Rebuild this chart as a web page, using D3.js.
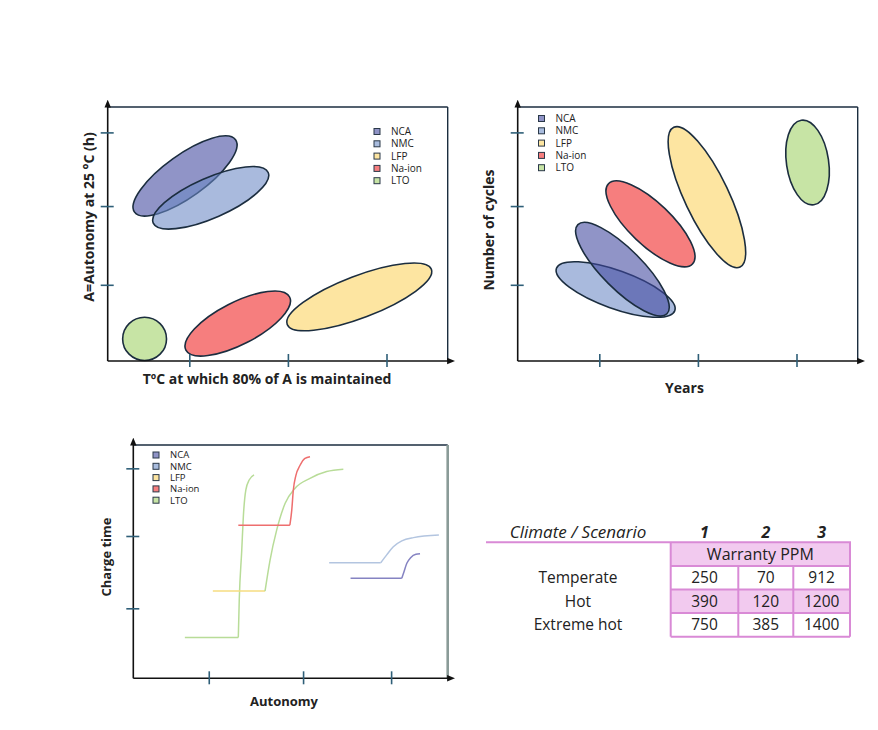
<!DOCTYPE html>
<html>
<head>
<meta charset="utf-8">
<script src="https://cdn.jsdelivr.net/npm/d3@7"></script>
<style>
  body { margin: 0; background: #fff; }
  svg { display: block; }
  text { font-family: 'Open Sans', 'Noto Sans', sans-serif; fill: #222; }
</style>
</head>
<body>
<svg id="chart" width="878" height="730"></svg>
<script>
// ---- Data -------------------------------------------------------

const SERIES = ['NCA', 'NMC', 'LFP', 'Na-ion', 'LTO'];

const X_TICKS = [24, 53, 82];
const Y_TICKS = [30, 61, 90];
const CHARGE_X_TICKS = [24, 54, 82];

// zones: ends of the long axis (x1,y1)-(x2,y2) and half width w, in axis units
const TEMP_ZONES = [
  { name: 'LTO',    x1: 4.4,  y1: 8.7,  x2: 17.3, y2: 8.7,  w: 8.5 },
  { name: 'Na-ion', x1: 23.0, y1: 4.3,  x2: 53.5, y2: 25.2, w: 8.3 },
  { name: 'LFP',    x1: 52.8, y1: 14.4, x2: 95.2, y2: 36.1, w: 8.3 },
  { name: 'NCA',    x1: 7.9,  y1: 58.6, x2: 37.6, y2: 87.1, w: 8.3 },
  { name: 'NMC',    x1: 13.4, y1: 54.3, x2: 47.2, y2: 74.2, w: 7.9 },
];

const LIFE_ZONES = [
  { name: 'LTO',    x1: 83.4, y1: 94.8, x2: 87.1, y2: 61.5, w: 8.3 },
  { name: 'LFP',    x1: 45.9, y1: 92.0, x2: 65.4, y2: 37.0, w: 8.7 },
  { name: 'Na-ion', x1: 26.7, y1: 69.8, x2: 51.4, y2: 38.2, w: 8.3 },
  { name: 'NMC',    x1: 11.4, y1: 36.5, x2: 46.2, y2: 19.8, w: 7.5 },
  { name: 'NCA',    x1: 17.7, y1: 53.7, x2: 43.9, y2: 18.6, w: 7.9 },
];

// charge curves: flat part [xStart, xEnd, y] then the rise
const CHARGE_CURVES = [
  { name: 'LTO',    flat: [16.4, 33.4, 17.5],
    rise: [[33.4, 17.5], [33.7, 33.6], [34.5, 55.0], [35.0, 69.3], [35.8, 80.8], [36.9, 85.1], [38.4, 87.2]] },
  { name: 'LFP',    flat: [25.3, 41.9, 37.4],
    rise: [[41.9, 37.4], [43.5, 50.7], [45.6, 63.5], [48.3, 75.0], [51.4, 81.4], [56.2, 85.7], [61.5, 88.6], [66.8, 89.6]] },
  { name: 'Na-ion', flat: [33.4, 49.8, 65.6],
    rise: [[49.8, 65.6], [50.4, 72.1], [50.9, 80.7], [51.7, 86.9], [53.0, 91.2], [54.6, 94.3], [56.2, 95.0]] },
  { name: 'NMC',    flat: [62.3, 78.7, 49.5],
    rise: [[78.7, 49.5], [80.6, 52.9], [82.7, 56.4], [85.4, 58.9], [89.1, 60.3], [97.2, 61.4]] },
  { name: 'NCA',    flat: [69.1, 85.4, 42.9],
    rise: [[85.4, 42.9], [86.1, 45.7], [87.0, 49.3], [88.2, 51.7], [89.9, 53.2], [91.2, 53.4]] },
];

const CLIMATES = ['Temperate', 'Hot', 'Extreme hot'];
const SCENARIOS = ['1', '2', '3'];
const WARRANTY_PPM = [
  [250, 70, 912],
  [390, 120, 1200],
  [750, 385, 1400],
];

// ---- Styles -----------------------------------------------------

const ZONE_FILL = {
  'NCA': 'rgba(64,70,158,0.58)', 'NMC': 'rgba(106,136,196,0.58)',
  'LFP': '#fde5a1', 'Na-ion': '#f67e7e', 'LTO': '#c7e4a5',
};
const SWATCH = {
  'NCA': '#8f93c6', 'NMC': '#a9bcde', 'LFP': '#fde5a1', 'Na-ion': '#f67e7e', 'LTO': '#c7e4a5',
};
const LINE_COLOR = {
  'NCA': '#8583c2', 'NMC': '#b3c5e0', 'LFP': '#f6dc80', 'Na-ion': '#ee6e6e', 'LTO': '#b8dc98',
};
const RISE_COLOR = { 'LFP': '#b8dc98' };   // the LFP rise is drawn green in the source

const STROKE = '#1b2d3f';
const TICK = '#2f5f78';
const PINK = '#d98ad6';
const PINK_FILL = '#f2caef';
const LEGEND_FONT = "'Liberation Sans', Arial, sans-serif";

const svg = d3.select('#chart');

const defs = svg.append('defs');
defs.append('marker')
  .attr('id', 'arrow')
  .attr('viewBox', '0 0 10 10')
  .attr('refX', 2).attr('refY', 5)
  .attr('markerWidth', 5).attr('markerHeight', 5)
  .attr('orient', 'auto')
  .append('path').attr('d', 'M0,1 L10,5 L0,9 Z').attr('fill', '#111');

// ---- Helpers ----------------------------------------------------

function frame(x, y, opts) {
  const [x0, x1] = x.range();
  const [y0, y1] = y.range();   // y0 bottom, y1 top
  const g = svg.append('g');

  g.append('line').attr('x1', x0).attr('x2', x1).attr('y1', y1).attr('y2', y1)
    .attr('stroke', opts.topColor || STROKE).attr('stroke-width', 1.4);
  g.append('line').attr('x1', x1).attr('x2', x1).attr('y1', y1).attr('y2', y0)
    .attr('stroke', opts.rightColor || STROKE).attr('stroke-width', opts.rightWidth || 1.4);

  g.append('line').attr('x1', x0).attr('x2', x0).attr('y1', y0).attr('y2', y1 - 1)
    .attr('stroke', '#111').attr('stroke-width', 1.6).attr('marker-end', 'url(#arrow)');
  g.append('line').attr('x1', x0).attr('x2', x1 + 1).attr('y1', y0).attr('y2', y0)
    .attr('stroke', '#111').attr('stroke-width', 1.6).attr('marker-end', 'url(#arrow)');

  const xa = g.append('g').attr('transform', `translate(0,${y0})`)
    .call(d3.axisBottom(x).tickValues(opts.xTicks).tickSize(0).tickFormat(''));
  xa.select('.domain').remove();
  xa.selectAll('.tick line').attr('y1', -7).attr('y2', 6).attr('stroke', TICK).attr('stroke-width', 1.6);

  const ya = g.append('g').attr('transform', `translate(${x0},0)`)
    .call(d3.axisLeft(y).tickValues(opts.yTicks).tickSize(0).tickFormat(''));
  ya.select('.domain').remove();
  ya.selectAll('.tick line').attr('x1', -7).attr('x2', 6).attr('stroke', TICK).attr('stroke-width', 1.6);

  g.append('text')
    .attr('x', opts.xTitle[1]).attr('y', opts.xTitle[2])
    .attr('text-anchor', 'middle').attr('dy', '0.35em')
    .attr('font-size', opts.titleSize).attr('font-weight', 700)
    .text(opts.xTitle[0]);
  g.append('text')
    .attr('transform', `translate(${opts.yTitle[1]},${opts.yTitle[2]}) rotate(-90)`)
    .attr('text-anchor', 'middle').attr('dy', '0.35em')
    .attr('font-size', opts.titleSize).attr('font-weight', 700)
    .text(opts.yTitle[0]);
}

function legend(x0, y0, step, size) {
  const g = svg.append('g').attr('transform', `translate(${x0},${y0})`);
  const row = g.selectAll('g').data(SERIES).join('g')
    .attr('transform', (d, i) => `translate(0,${i * step})`);
  row.append('rect')
    .attr('x', -3).attr('y', -3).attr('width', 6).attr('height', 6)
    .attr('fill', d => SWATCH[d]).attr('stroke', '#2a3848').attr('stroke-width', 1);
  row.append('text')
    .attr('x', 14).attr('dy', '0.36em')
    .attr('font-family', LEGEND_FONT)
    .attr('font-size', size).attr('fill', '#333')
    .text(d => d);
}

function zones(x, y, data) {
  const g = svg.append('g');
  const unit = Math.abs(y(0) - y(1));
  data.forEach(d => {
    const ax = x(d.x1), ay = y(d.y1), bx = x(d.x2), by = y(d.y2);
    const rx = Math.hypot(bx - ax, by - ay) / 2;
    const ang = Math.atan2(by - ay, bx - ax) * 180 / Math.PI;
    g.append('ellipse')
      .attr('transform', `translate(${(ax + bx) / 2},${(ay + by) / 2}) rotate(${ang})`)
      .attr('rx', rx).attr('ry', d.w * unit)
      .attr('fill', ZONE_FILL[d.name])
      .attr('stroke', STROKE).attr('stroke-width', 1.6);
  });
}

// ---- Chart 1: autonomy vs temperature --------------------------

const x1 = d3.scaleLinear().domain([0, 100]).range([107.7, 447.7]);
const y1 = d3.scaleLinear().domain([0, 100]).range([361, 107]);
zones(x1, y1, TEMP_ZONES);
frame(x1, y1, {
  xTicks: X_TICKS, yTicks: Y_TICKS, titleSize: 14,
  xTitle: ['TºC at which 80% of A is maintained', 267, 379],
  yTitle: ['A=Autonomy at 25 °C (h)', 89, 217],
});
legend(377, 131.5, 12.3, 10);

// ---- Chart 2: cycles vs years ----------------------------------

const x2 = d3.scaleLinear().domain([0, 100]).range([517.7, 857.7]);
const y2 = d3.scaleLinear().domain([0, 100]).range([361, 107]);
zones(x2, y2, LIFE_ZONES);
frame(x2, y2, {
  xTicks: X_TICKS, yTicks: Y_TICKS, titleSize: 14,
  xTitle: ['Years', 684.5, 388.5],
  yTitle: ['Number of cycles', 489, 230],
});
legend(541.5, 118.5, 12.3, 10);

// ---- Chart 3: charge time vs autonomy --------------------------

const x3 = d3.scaleLinear().domain([0, 100]).range([133.3, 447.7]);
const y3 = d3.scaleLinear().domain([0, 100]).range([678.3, 445]);

const lineG = svg.append('g').attr('fill', 'none').attr('stroke-width', 1.5);
const riseLine = d3.line().x(d => x3(d[0])).y(d => y3(d[1])).curve(d3.curveMonotoneX);
CHARGE_CURVES.forEach(c => {
  lineG.append('line')
    .attr('x1', x3(c.flat[0])).attr('x2', x3(c.flat[1]))
    .attr('y1', y3(c.flat[2])).attr('y2', y3(c.flat[2]))
    .attr('stroke', LINE_COLOR[c.name]);
  lineG.append('path')
    .attr('d', riseLine(c.rise))
    .attr('stroke', RISE_COLOR[c.name] || LINE_COLOR[c.name]);
});
frame(x3, y3, {
  xTicks: CHARGE_X_TICKS, yTicks: Y_TICKS, titleSize: 13,
  rightColor: '#8a9b98', rightWidth: 2.6,
  xTitle: ['Autonomy', 284, 701],
  yTitle: ['Charge time', 106, 557],
});
legend(156, 455, 11.3, 9.5);

// ---- Table: warranty PPM ---------------------------------------

const colEdges = [670.7, 738.3, 793.3, 850];
const colMid = i => (colEdges[i] + colEdges[i + 1]) / 2;
const rowY = d3.scaleBand().domain(['head', ...CLIMATES]).range([542.3, 636.7]);

const t = svg.append('g');

t.append('text')
  .attr('x', 578).attr('y', 532).attr('dy', '0.35em')
  .attr('text-anchor', 'middle').attr('font-size', 17).attr('font-style', 'italic')
  .text('Climate / Scenario');
SCENARIOS.forEach((s, i) => {
  t.append('text')
    .attr('x', colMid(i)).attr('y', 532).attr('dy', '0.35em')
    .attr('text-anchor', 'middle').attr('font-size', 16)
    .attr('font-style', 'italic').attr('font-weight', 700)
    .text(s);
});

// pink fills
t.append('rect')
  .attr('x', colEdges[0]).attr('y', rowY('head'))
  .attr('width', colEdges[3] - colEdges[0]).attr('height', rowY.bandwidth())
  .attr('fill', PINK_FILL);
t.append('rect')
  .attr('x', colEdges[0]).attr('y', rowY('Hot'))
  .attr('width', colEdges[3] - colEdges[0]).attr('height', rowY.bandwidth())
  .attr('fill', PINK_FILL);

// grid
const grid = t.append('g').attr('stroke', PINK).attr('stroke-width', 2).attr('fill', 'none');
grid.append('line').attr('x1', 486).attr('x2', colEdges[3] + 1)
  .attr('y1', rowY('head')).attr('y2', rowY('head'));
rowY.domain().slice(1).forEach(r => {
  grid.append('line').attr('x1', colEdges[0]).attr('x2', colEdges[3])
    .attr('y1', rowY(r)).attr('y2', rowY(r));
});
grid.append('line').attr('x1', colEdges[0]).attr('x2', colEdges[3])
  .attr('y1', rowY.range()[1]).attr('y2', rowY.range()[1]);
[0, 3].forEach(i => {
  grid.append('line').attr('x1', colEdges[i]).attr('x2', colEdges[i])
    .attr('y1', rowY('head')).attr('y2', rowY.range()[1]);
});
[1, 2].forEach(i => {
  grid.append('line').attr('x1', colEdges[i]).attr('x2', colEdges[i])
    .attr('y1', rowY('Temperate')).attr('y2', rowY.range()[1]);
});

t.append('text')
  .attr('x', (colEdges[0] + colEdges[3]) / 2).attr('y', rowY('head') + rowY.bandwidth() / 2)
  .attr('dy', '0.35em').attr('text-anchor', 'middle').attr('font-size', 16)
  .text('Warranty PPM');

CLIMATES.forEach((c, r) => {
  const yc = rowY(c) + rowY.bandwidth() / 2;
  t.append('text')
    .attr('x', 578).attr('y', yc).attr('dy', '0.35em')
    .attr('text-anchor', 'middle').attr('font-size', 15.5)
    .text(c);
  WARRANTY_PPM[r].forEach((v, i) => {
    t.append('text')
      .attr('x', colMid(i)).attr('y', yc).attr('dy', '0.35em')
      .attr('text-anchor', 'middle').attr('font-size', 15.5)
      .text(v);
  });
});
</script>
</body>
</html>
